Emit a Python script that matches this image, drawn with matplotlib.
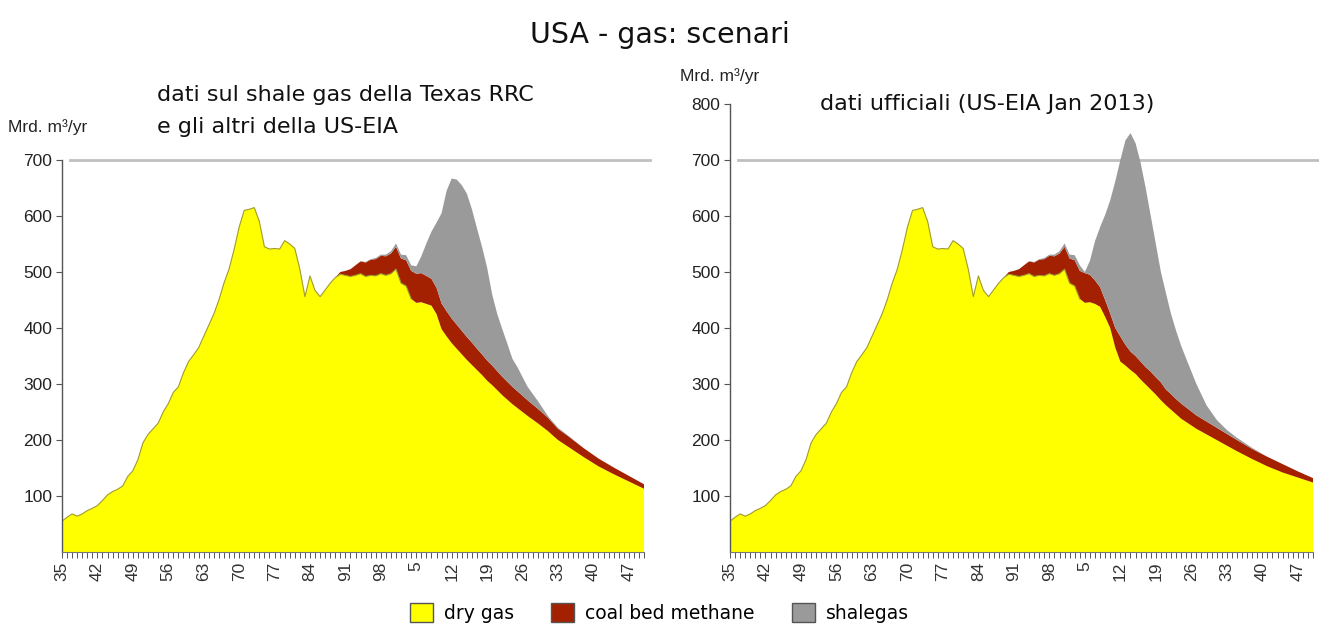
import matplotlib
matplotlib.use('Agg')
import matplotlib.pyplot as plt
from matplotlib.patches import Patch
from matplotlib.ticker import MultipleLocator

# years: annual up to 2025, then coarser steps for the projection tail
hist_years = list(range(1935, 2005))
tail_years = list(range(2005, 2026)) + [2027, 2029, 2031, 2033, 2035, 2038, 2041, 2044, 2047, 2050]
years = hist_years + tail_years

# shared history 1935-2004 (Mrd. m3/yr)
dry_hist = [55, 62, 68, 64, 68, 74, 78, 83, 92, 102,
            108, 112, 118, 135, 145, 165, 195, 210, 220, 230,
            250, 265, 285, 295, 320, 340, 352, 365, 385, 405,
            425, 450, 480, 505, 540, 580, 610, 612, 615, 590,
            545, 541, 542, 541, 556, 550, 542, 505, 456, 493,
            467, 456, 468, 480, 490,
            496, 494, 492, 494, 497, 492, 494, 493, 497, 494,
            497, 505, 480, 475, 452]
cbm_hist = [0] * 55 + [4, 8, 13, 18, 22, 25, 28, 30, 32, 34, 36, 40, 44, 46, 50]
shale_hist = [0] * 55 + [0, 0, 0, 0, 0, 1, 1, 2, 2, 3, 4, 6, 7, 9, 10]

# left panel: Texas RRC shale data
dry_left = [445, 446, 443, 440, 425, 398, 385, 373, 363, 353, 343, 334, 325, 316, 306,
            298, 289, 280, 272, 264, 257, 243, 230, 216, 200, 188, 170, 153, 139, 126, 113]
cbm_left = [52, 52, 50, 48, 47, 46, 45, 44, 43, 42, 41, 40, 38, 37, 36,
            35, 34, 33, 32, 31, 30, 28, 26, 24, 20, 19, 16, 14, 12, 10, 8]
shale_left = [13, 30, 58, 84, 116, 161, 215, 250, 259, 260, 256, 238, 215, 192, 166,
              127, 102, 85, 68, 50, 43, 24, 14, 3, 2, 1, 0, 0, 0, 0, 0]

# right panel: official US-EIA Jan 2013
dry_right = [445, 446, 443, 438, 420, 400, 365, 340, 333, 325, 318, 308, 299, 290, 281,
             271, 262, 254, 246, 238, 232, 220, 210, 200, 190, 180, 166, 153, 142, 133, 124]
cbm_right = [53, 49, 42, 35, 30, 26, 35, 45, 37, 33, 32, 32, 31, 32, 31,
             32, 28, 28, 27, 27, 26, 24, 23, 22, 21, 20, 18, 17, 15, 11, 8]
shale_right = [2, 25, 70, 107, 152, 202, 262, 315, 365, 390, 380, 355, 320, 278, 238,
               197, 172, 143, 122, 103, 87, 56, 29, 14, 7, 4, 2, 0, 0, 0, 0]

major_years = list(range(1935, 2050, 7))
tick_labels = [str(y % 100) for y in major_years]

c_dry = '#ffff00'
c_cbm = '#a32100'
c_shale = '#9a9a9a'

plt.rcParams['font.family'] = ['Liberation Sans', 'DejaVu Sans']

fig = plt.figure(figsize=(13.19, 6.3), dpi=100)
ax1 = fig.add_axes([62/1319, 78/630, 582/1319, 392/630])
ax2 = fig.add_axes([730/1319, 78/630, 583/1319, 448/630])

panels = [
    (ax1, dry_left, cbm_left, shale_left, 700),
    (ax2, dry_right, cbm_right, shale_right, 800),
]

for ax, dry_t, cbm_t, shale_t, ytop in panels:
    dry = dry_hist + dry_t
    cbm = cbm_hist + cbm_t
    shale = shale_hist + shale_t
    ax.stackplot(years, dry, cbm, shale, colors=[c_dry, c_cbm, c_shale], linewidth=0)
    # thin olive outline on the dry gas edge
    ax.plot(hist_years, dry_hist, color='#a09a30', linewidth=0.8)
    ax.axhline(700, xmin=0.014, xmax=1.01, color='#c0c0c0', linewidth=2, clip_on=False, zorder=0)

    ax.set_xlim(1935, 2050)
    ax.set_ylim(0, ytop)
    ax.set_yticks(range(100, ytop + 1, 100))
    ax.set_xticks(major_years)
    ax.set_xticklabels(tick_labels, rotation=90, fontsize=12.5, color='#333333')
    ax.xaxis.set_minor_locator(MultipleLocator(1))
    ax.tick_params(axis='x', which='both', length=4, width=0.7, color='#555555', pad=3)
    ax.tick_params(axis='y', length=4, width=0.8, color='#555555', labelsize=12.5, labelcolor='#222222', pad=3)
    for s in ('top', 'right'):
        ax.spines[s].set_visible(False)
    ax.spines['left'].set_color('#555555')
    ax.spines['bottom'].set_color('#777777')
    ax.spines['left'].set_linewidth(1.0)
    ax.spines['bottom'].set_linewidth(0.8)

tfont = ['DejaVu Sans']
fig.text(0.5, 1 - 35/630, 'USA - gas: scenari', ha='center', va='center', fontsize=20.5, family=tfont, color='#111111')
fig.text(157/1319, 1 - 95/630, 'dati sul shale gas della Texas RRC', ha='left', va='center', fontsize=16, family=tfont, color='#111111')
fig.text(157/1319, 1 - 127/630, 'e gli altri della US-EIA', ha='left', va='center', fontsize=16, family=tfont, color='#111111')
fig.text(820/1319, 1 - 104/630, 'dati ufficiali (US-EIA Jan 2013)', ha='left', va='center', fontsize=16, family=tfont, color='#111111')
fig.text(8/1319, 1 - 127/630, 'Mrd. m³/yr', ha='left', va='center', fontsize=12.5, color='#222222')
fig.text(680/1319, 1 - 76/630, 'Mrd. m³/yr', ha='left', va='center', fontsize=12.5, color='#222222')

handles = [
    Patch(facecolor=c_dry, edgecolor='#555555', label='dry gas'),
    Patch(facecolor=c_cbm, edgecolor='#555555', label='coal bed methane'),
    Patch(facecolor=c_shale, edgecolor='#555555', label='shalegas'),
]
fig.legend(handles=handles, loc='center', bbox_to_anchor=(0.5, 1 - 613/630), ncol=3, frameon=False,
           prop={'family': tfont, 'size': 13.5}, handlelength=1.2, handleheight=1.2,
           columnspacing=2.0, handletextpad=0.6)

fig.savefig('out.png', dpi=100)
